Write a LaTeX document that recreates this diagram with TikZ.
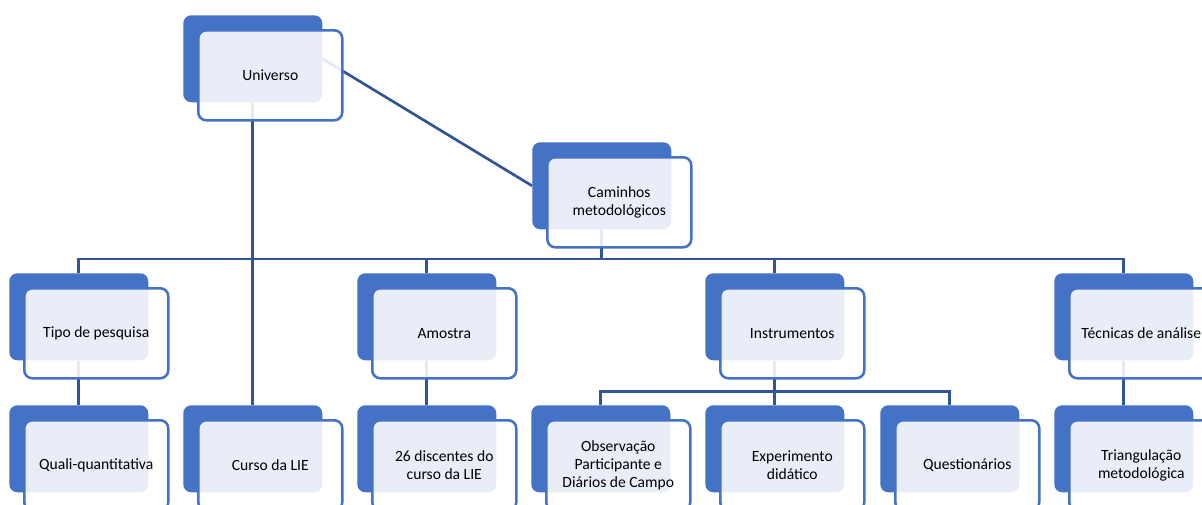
\documentclass[tikz,border=0pt]{standalone}
\usepackage{fontspec}
\setmainfont{Carlito}
\usepackage{tikz}
\usetikzlibrary{backgrounds}
\definecolor{smartblue}{HTML}{4472C4}
\definecolor{linkblue}{HTML}{2F5597}
\tikzset{
  backbox/.style={
    fill=smartblue,
    rounded corners=6pt,
    minimum width=104.25pt,
    minimum height=65.25pt,
    inner sep=0pt,
    anchor=north west
  },
  frontbox/.style={
    draw=smartblue,
    line width=1.9pt,
    fill=white,
    fill opacity=0.88,
    text opacity=1,
    rounded corners=6pt,
    minimum width=108pt,
    minimum height=67.5pt,
    inner sep=2pt,
    align=center,
    font=\fontsize{11.7}{13.5}\selectfont,
    anchor=north west
  },
  link/.style={
    draw=linkblue,
    line width=2pt
  }
}

\begin{document}
\begin{tikzpicture}[x=0.75pt,y=-0.75pt]
    \useasboundingbox (0,0) rectangle (1202,504);
    \clip (0,0) rectangle (1202,504);

    % back boxes
    \node[backbox] (uni-b)   at (183,15)   {};
    \node[backbox] (cam-b)   at (532,142)  {};
    \node[backbox] (tipo-b)  at (9,273)    {};
    \node[backbox] (amo-b)   at (357,273)  {};
    \node[backbox] (inst-b)  at (705,273)  {};
    \node[backbox] (tec-b)   at (1054,273) {};
    \node[backbox] (quali-b) at (9,405)    {};
    \node[backbox] (curso-b) at (183,405)  {};
    \node[backbox] (disc-b)  at (357,405)  {};
    \node[backbox] (obs-b)   at (531,405)  {};
    \node[backbox] (exp-b)   at (705,405)  {};
    \node[backbox] (quest-b) at (880,405)  {};
    \node[backbox] (tri-b)   at (1054,405) {};

    % front boxes
    \node[frontbox] (uni)   at ([shift={(14,14)}]uni-b.north west)   {Universo};
    \node[frontbox] (cam)   at ([shift={(14,14)}]cam-b.north west)   {Caminhos\\metodológicos};
    \node[frontbox] (tipo)  at ([shift={(14,14)}]tipo-b.north west)  {Tipo de pesquisa};
    \node[frontbox] (amo)   at ([shift={(14,14)}]amo-b.north west)   {Amostra};
    \node[frontbox] (inst)  at ([shift={(14,14)}]inst-b.north west)  {Instrumentos};
    \node[frontbox] (tec)   at ([shift={(14,14)}]tec-b.north west)   {Técnicas de análise};
    \node[frontbox] (quali) at ([shift={(14,14)}]quali-b.north west) {Quali-quantitativa};
    \node[frontbox] (curso) at ([shift={(14,14)}]curso-b.north west) {Curso da LIE};
    \node[frontbox] (disc)  at ([shift={(14,14)}]disc-b.north west)  {26 discentes do\\curso da LIE};
    \node[frontbox] (obs)   at ([shift={(14,14)}]obs-b.north west)   {Observação\\Participante e\\Diários de Campo};
    \node[frontbox] (exp)   at ([shift={(14,14)}]exp-b.north west)   {Experimento\\didático};
    \node[frontbox] (quest) at ([shift={(14,14)}]quest-b.north west) {Questionários};
    \node[frontbox] (tri)   at ([shift={(14,14)}]tri-b.north west)   {Triangulação\\metodológica};

    \begin{scope}[on background layer]
        \draw[link] (uni-b.east) -- (cam-b.west);
        \draw[link] (uni-b.south) -- (curso-b.north);

        \draw[link] (cam-b.south) -- ++(0,29.5) -| (tipo-b.north);
        \draw[link] (cam-b.south) -- ++(0,29.5) -| (amo-b.north);
        \draw[link] (cam-b.south) -- ++(0,29.5) -| (inst-b.north);
        \draw[link] (cam-b.south) -- ++(0,29.5) -| (tec-b.north);

        \draw[link] (tipo-b.south) -- (quali-b.north);
        \draw[link] (amo-b.south) -- (disc-b.north);
        \draw[link] (tec-b.south) -- (tri-b.north);

        \draw[link] (inst-b.south) -- ++(0,31) -| (obs-b.north);
        \draw[link] (inst-b.south) -- ++(0,31) -| (exp-b.north);
        \draw[link] (inst-b.south) -- ++(0,31) -| (quest-b.north);
    \end{scope}
\end{tikzpicture}
\end{document}
